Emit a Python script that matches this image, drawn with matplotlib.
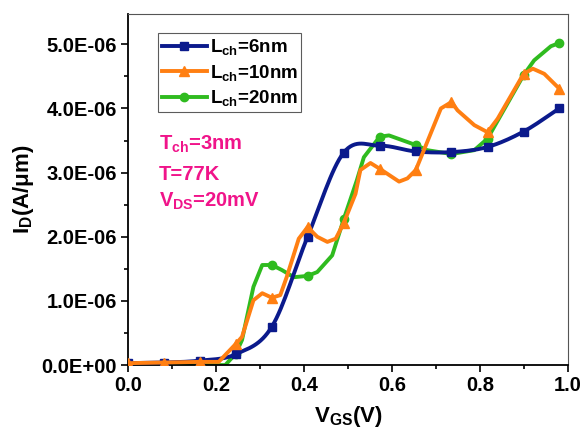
import numpy as np
import matplotlib
matplotlib.use("Agg")
import matplotlib.pyplot as plt
from matplotlib.ticker import MultipleLocator

plt.rcParams['font.family'] = ['Liberation Sans', 'DejaVu Sans']
plt.rcParams['font.weight'] = 'bold'
plt.rcParams['mathtext.fontset'] = 'custom'
plt.rcParams['mathtext.rm'] = 'Liberation Sans:bold'
plt.rcParams['mathtext.it'] = 'Liberation Sans:bold'
plt.rcParams['mathtext.bf'] = 'Liberation Sans:bold'
plt.rcParams['mathtext.default'] = 'bf'

# gate voltage grid (V) where markers are placed
vgs = [0.0, 0.082, 0.164, 0.245, 0.327, 0.408, 0.49, 0.572, 0.654, 0.735, 0.817, 0.899, 0.98]

# Lch = 6nm (units of 1e-6 A/um)
id_6 = [0.03, 0.04, 0.07, 0.17, 0.60, 2.00, 3.31, 3.42, 3.33, 3.32, 3.40, 3.64, 4.00]

# Lch = 10nm, all vertices
x_10 = [0.0, 0.082, 0.164, 0.206, 0.245, 0.259, 0.285, 0.305, 0.327, 0.346, 0.361,
        0.388, 0.408, 0.430, 0.453, 0.472, 0.49, 0.517, 0.528, 0.551, 0.572, 0.616,
        0.635, 0.654, 0.711, 0.735, 0.749, 0.787, 0.817, 0.840, 0.899, 0.920, 0.946, 0.98]
id_10 = [0.03, 0.04, 0.05, 0.05, 0.33, 0.44, 1.01, 1.12, 1.05, 1.09, 1.38,
         1.97, 2.15, 2.00, 1.92, 1.97, 2.21, 2.67, 3.04, 3.15, 3.06, 2.86,
         2.91, 3.04, 4.00, 4.10, 3.97, 3.74, 3.63, 3.84, 4.54, 4.62, 4.54, 4.31]
mark_10 = [0, 1, 2, 4, 8, 12, 16, 20, 23, 25, 28, 30, 33]

# Lch = 20nm
x_20 = [0.0, 0.082, 0.164, 0.221, 0.245, 0.259, 0.285, 0.305, 0.327, 0.350, 0.377,
        0.408, 0.430, 0.464, 0.49, 0.520, 0.536, 0.572, 0.593, 0.654, 0.680, 0.735,
        0.787, 0.817, 0.899, 0.923, 0.961, 0.98]
id_20 = [0.0, 0.0, 0.0, 0.0, 0.18, 0.39, 1.22, 1.56, 1.56, 1.48, 1.37,
         1.39, 1.45, 1.71, 2.27, 2.88, 3.24, 3.56, 3.58, 3.43, 3.35, 3.29,
         3.35, 3.53, 4.52, 4.75, 4.97, 5.02]
mark_20 = [4, 8, 11, 14, 17, 19, 21, 23, 24, 27]

labels = ['L$_{ch}$=6nm', 'L$_{ch}$=10nm', 'L$_{ch}$=20nm']
notes = ['T$_{ch}$=3nm', 'T=77K', 'V$_{DS}$=20mV']


def smooth(x, y, n=16):
    # Catmull-Rom curve through the points, for drawing only
    x = np.asarray(x, float)
    y = np.asarray(y, float)
    px = np.concatenate([[2 * x[0] - x[1]], x, [2 * x[-1] - x[-2]]])
    py = np.concatenate([[2 * y[0] - y[1]], y, [2 * y[-1] - y[-2]]])
    t = np.linspace(0, 1, n, endpoint=False)
    xs, ys = [], []
    for i in range(1, len(px) - 2):
        for p, out in ((px, xs), (py, ys)):
            p0, p1, p2, p3 = p[i - 1], p[i], p[i + 1], p[i + 2]
            out.extend(0.5 * (2 * p1 + (-p0 + p2) * t + (2 * p0 - 5 * p1 + 4 * p2 - p3) * t ** 2
                              + (-p0 + 3 * p1 - 3 * p2 + p3) * t ** 3))
    xs.append(x[-1])
    ys.append(y[-1])
    return np.array(xs), np.array(ys)


c_blue = '#0b1a8c'
c_orange = '#ff7f12'
c_green = '#2fbb1f'
c_pink = '#f0148a'
lw = 2.8

fig = plt.figure(figsize=(5.82, 4.29), dpi=100)
ax = fig.add_axes([0.22, 0.149, 0.756, 0.818])

sx, sy = smooth(vgs, id_6)
ax.plot(sx, sy * 1e-6, color=c_blue, lw=lw, zorder=3)
ax.plot(vgs, np.array(id_6) * 1e-6, ls='none', marker='s', ms=6, color=c_blue, zorder=3)
ax.plot(x_10, np.array(id_10) * 1e-6, color=c_orange, lw=lw, marker='^', ms=6.5,
        markevery=mark_10, zorder=4)
ax.plot(x_20, np.array(id_20) * 1e-6, color=c_green, lw=lw, marker='o', ms=6,
        markevery=mark_20, zorder=2)

# legend proxies
h1, = ax.plot([], [], color=c_blue, lw=lw, marker='s', ms=6)
h2, = ax.plot([], [], color=c_orange, lw=lw, marker='^', ms=6.5)
h3, = ax.plot([], [], color=c_green, lw=lw, marker='o', ms=6)
leg = ax.legend([h1, h2, h3], labels, loc='upper left', bbox_to_anchor=(0.068, 0.945),
                fontsize=13.5, handlelength=2.4, handletextpad=0.15, labelspacing=0.3,
                borderpad=0.2, borderaxespad=0, fancybox=False, frameon=True)
leg.get_frame().set_edgecolor('#333333')
leg.get_frame().set_linewidth(0.8)

for txt, yy in zip(notes, [0.613, 0.527, 0.45]):
    ax.text(0.07, yy, txt, transform=ax.transAxes, color=c_pink, fontsize=14.5,
            fontweight='bold', va='baseline', ha='left')

ax.set_xlim(0, 1.0)
ax.set_ylim(0, 5.47e-6)
ax.xaxis.set_minor_locator(MultipleLocator(0.1))
ax.yaxis.set_minor_locator(MultipleLocator(0.5e-6))
ax.set_yticks([0, 1e-6, 2e-6, 3e-6, 4e-6, 5e-6])
ax.set_yticklabels(['0.0E+00', '1.0E-06', '2.0E-06', '3.0E-06', '4.0E-06', '5.0E-06'])
ax.set_xticks([0.0, 0.2, 0.4, 0.6, 0.8, 1.0])
ax.set_xticklabels(['0.0', '0.2', '0.4', '0.6', '0.8', '1.0'])
ax.tick_params(which='major', direction='out', length=5, width=1.2, labelsize=14.5, pad=3)
ax.tick_params(which='minor', direction='out', length=3, width=1.2)
for lab in ax.get_xticklabels() + ax.get_yticklabels():
    lab.set_fontweight('bold')
for side in ['left', 'bottom']:
    ax.spines[side].set_linewidth(1.3)
for side in ['top', 'right']:
    ax.spines[side].set_linewidth(0.8)
    ax.spines[side].set_color('#555555')

ax.set_xlabel('V$_{GS}$(V)', fontsize=16, fontweight='bold', labelpad=6)
ax.set_ylabel('I$_{D}$(A/\u03bcm)', fontsize=16, fontweight='bold', labelpad=4)

fig.savefig('out.png', dpi=100)
